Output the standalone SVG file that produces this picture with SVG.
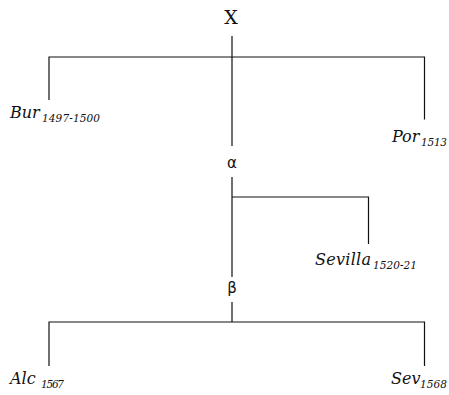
<svg xmlns="http://www.w3.org/2000/svg" width="449" height="395" viewBox="0 0 449 395">
  <style>
    .edge { fill: none; stroke: #111; stroke-width: 1.2; }
    .hyp { font-family: "DejaVu Serif", "Liberation Serif", serif; font-size: 19px; fill: #111; }
    .greek { font-family: "DejaVu Sans", "Liberation Sans", sans-serif; font-size: 15px; fill: #111; }
    .wit { font-family: "DejaVu Serif", "Liberation Serif", serif; font-style: italic; font-size: 16px; fill: #111; }
    .date { font-size: 10.5px; }
  </style>
  <rect width="449" height="395" fill="#fff"/>

  <g id="connectors">
    <!-- X to Bur, alpha, Por -->
    <path class="edge" d="M232 36 V146 M49 100 V57 H424.5 V119.5"/>
    <!-- alpha to beta and Sevilla -->
    <path class="edge" d="M232 177 V277 M232 197 H368.5 V244"/>
    <!-- beta to Alc and Sev -->
    <path class="edge" d="M232 302 V322 M49 366 V322 H424.5 V366"/>
  </g>

  <g id="node-x">
    <text class="hyp" x="231" y="24" text-anchor="middle">X</text>
  </g>
  <g id="node-bur">
    <text class="wit" x="10" y="118">Bur<tspan class="date" x="42" dy="4" textLength="58">1497-1500</tspan></text>
  </g>
  <g id="node-por">
    <text class="wit" x="392" y="142">Por<tspan class="date" x="421" dy="4" textLength="26">1513</tspan></text>
  </g>
  <g id="node-alpha">
    <text class="greek" x="232" y="168" text-anchor="middle">α</text>
  </g>
  <g id="node-sevilla">
    <text class="wit" x="315" y="265" textLength="56">Sevilla</text>
    <text class="wit date" x="373" y="269" textLength="44">1520-21</text>
  </g>
  <g id="node-beta">
    <text class="greek" x="232" y="293" text-anchor="middle">β</text>
  </g>
  <g id="node-alc">
    <text class="wit" x="10" y="384">Alc<tspan class="date" x="41" dy="4" textLength="23">1567</tspan></text>
  </g>
  <g id="node-sev">
    <text class="wit" x="391" y="384">Sev<tspan class="date" x="420" dy="4" textLength="27">1568</tspan></text>
  </g>
</svg>
